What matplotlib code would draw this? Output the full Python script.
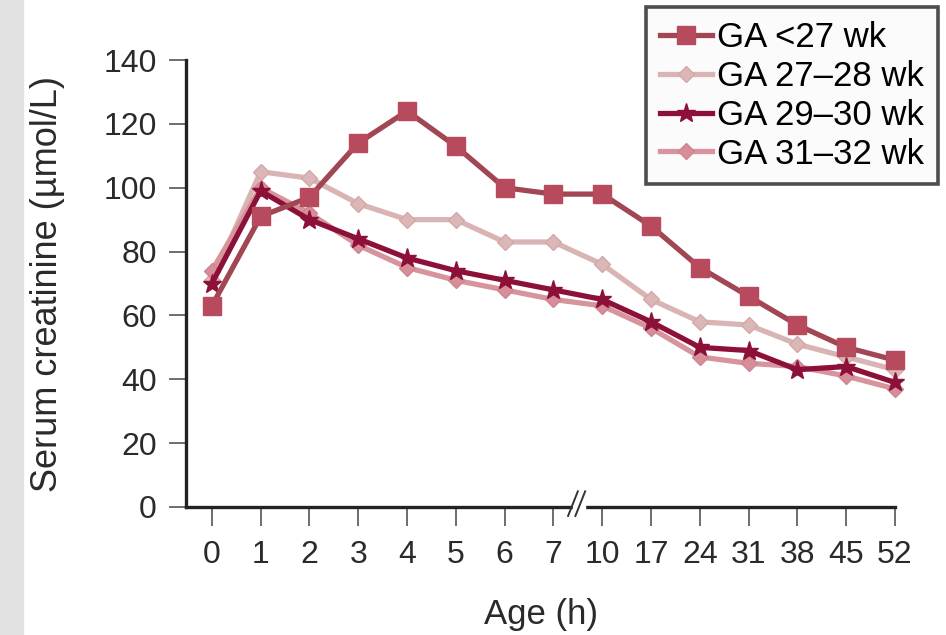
import numpy as np
import matplotlib.pyplot as plt
from matplotlib.patches import Rectangle

plt.rcParams['font.family'] = ['Liberation Sans', 'DejaVu Sans']

# Age labels (axis is categorical, break between 7 and 10)
ages = ["0", "1", "2", "3", "4", "5", "6", "7", "10", "17", "24", "31", "38", "45", "52"]

ga_lt27 = [63, 91, 97, 114, 124, 113, 100, 98, 98, 88, 75, 66, 57, 50, 46]
ga_27_28 = [71, 105, 103, 95, 90, 90, 83, 83, 76, 65, 58, 57, 51, 47, 43]
ga_29_30 = [70, 99, 90, 84, 78, 74, 71, 68, 65, 58, 50, 49, 43, 44, 39]
ga_31_32 = [74, 100, 92, 82, 75, 71, 68, 65, 63, 56, 47, 45, 44, 41, 37]

labels = ["GA <27 wk", "GA 27\u201328 wk", "GA 29\u201330 wk", "GA 31\u201332 wk"]

x = np.arange(len(ages))

fig = plt.figure(figsize=(9.46, 6.35), dpi=100)
fig.patches.append(Rectangle((0, 0), 23 / 946, 1, transform=fig.transFigure,
                             color="#e2e2e2", zorder=0))

ax = fig.add_axes([186 / 946, 128 / 635, (895 - 186) / 946, (507 - 60) / 635])

# plot order: light ones first, dark red on top
ax.plot(x, ga_27_28, color="#d9b4b4", lw=3.8, marker="D", ms=8,
        mfc="#dcb7b7", mec="#d2a8a8", clip_on=False, zorder=3)
ax.plot(x, ga_31_32, color="#d8949c", lw=3.8, marker="D", ms=8,
        mfc="#d78e98", mec="#cf858f", clip_on=False, zorder=4)
ax.plot(x, ga_29_30, color="#8c1038", lw=3.8, marker="*", ms=14,
        mfc="#8c1038", mec="#8c1038", clip_on=False, zorder=5)
ax.plot(x, ga_lt27, color="#a14652", lw=3.8, marker="s", ms=13,
        mfc="#b84a5d", mec="#b84a5d", clip_on=False, zorder=6)

ax.set_xlim(-0.53, 14)
ax.set_ylim(0, 140)
ax.set_yticks(range(0, 141, 20))
ax.set_xticks(x)
ax.set_xticklabels(ages)

for s in ["top", "right"]:
    ax.spines[s].set_visible(False)
for s in ["left", "bottom"]:
    ax.spines[s].set_linewidth(2.4)
    ax.spines[s].set_color("#222222")

ax.tick_params(axis="y", direction="out", length=12, width=1.2, color="#555555",
               labelsize=23, pad=9, labelcolor="#2a2a2a")
ax.tick_params(axis="x", direction="out", length=14, width=1.2, color="#555555",
               labelsize=23, pad=10, labelcolor="#2a2a2a")

# axis break marks between 7 and 10
ax.add_patch(Rectangle((7.4, -0.01), 0.25, 0.03, transform=ax.get_xaxis_transform(),
                       color="white", clip_on=False, zorder=7))
for dx in (-0.05, 0.1):
    ax.plot([7.35 + dx, 7.55 + dx], [-0.02, 0.035], transform=ax.get_xaxis_transform(),
            color="#333333", lw=1.4, clip_on=False, zorder=8)

ax.set_xlabel("Age (h)", fontsize=25, labelpad=20, color="#2a2a2a")
ax.set_ylabel("Serum creatinine (\u00b5mol/L)", fontsize=26, labelpad=28, color="#2a2a2a")

handles = ax.get_lines()[:4]
order = [3, 0, 2, 1]
leg = fig.legend([handles[i] for i in order], labels, loc="upper right",
                 bbox_to_anchor=(938 / 946, 1 - 7 / 635), fontsize=25,
                 frameon=True, fancybox=False, labelspacing=0.17,
                 handlelength=1.5, handletextpad=0.15, borderpad=0.4,
                 borderaxespad=0)
leg.get_frame().set_edgecolor("#222222")
leg.get_frame().set_linewidth(2.6)
leg.get_frame().set_facecolor("#fafafa")

fig.savefig("out.png", dpi=100)
